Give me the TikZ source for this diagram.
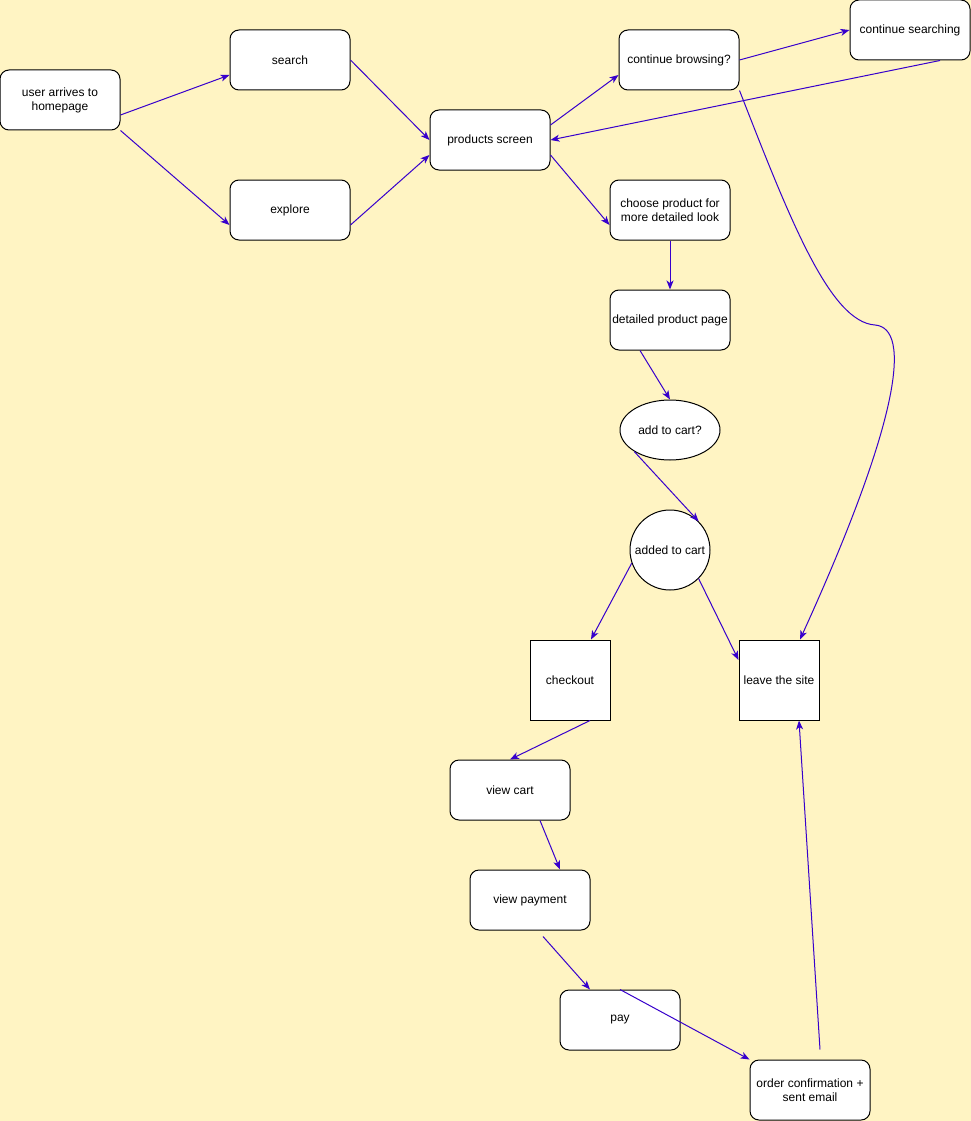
\documentclass[tikz,border=0pt]{standalone}
\usepackage{fontspec}
\setmainfont{Liberation Sans}
\usetikzlibrary{arrows.meta,calc,shapes.geometric}
\definecolor{bgcol}{HTML}{FFF4C3}
\definecolor{conncol}{HTML}{3700CC}
\begin{document}
\begin{tikzpicture}[x=1pt,y=-1pt,
  every node/.style={font=\fontsize{12}{14}\selectfont,text=black,align=center,inner sep=0pt},
  rbox/.style={draw=black,fill=white,line width=1pt,rounded corners=9pt,rectangle,minimum width=120pt,minimum height=60pt},
  sbox/.style={draw=black,fill=white,line width=1pt,rectangle,minimum width=80pt,minimum height=80pt},
  ebox/.style={draw=black,fill=white,line width=1pt,ellipse,minimum width=100pt,minimum height=60pt},
  cbox/.style={draw=black,fill=white,line width=1pt,circle,minimum size=80pt},
  conn/.style={draw=conncol,line width=1pt,-{Stealth[length=9pt,width=7pt,inset=2.5pt]}}]
\useasboundingbox (0,0) rectangle (971,1121);
\fill[bgcol] (0,0) rectangle (971,1121);

\node[rbox] (user) at (60,100) {user arrives to\\homepage};
\node[rbox] (search) at (290,60) {search};
\node[rbox] (explore) at (290,210) {explore};
\node[rbox] (products) at (490,140) {products screen};
\node[rbox] (browse) at (679,60) {continue browsing?};
\node[rbox] (searching) at (910,30) {continue searching};
\node[rbox] (choose) at (670,210) {choose product for\\more detailed look};
\node[rbox] (detailed) at (670,320) {detailed product page};
\node[ebox] (addq) at (670,430) {add to cart?};
\node[cbox] (added) at (670,550) {added to cart};
\node[sbox] (checkout) at (570,680) {checkout};
\node[sbox] (leave) at (779,680) {leave the site};
\node[rbox] (viewcart) at (510,790) {view cart};
\node[rbox] (viewpay) at (530,900) {view payment};
\node[rbox] (pay) at (620,1020) {pay};
\node[rbox] (order) at (810,1090) {order confirmation +\\sent email};

\draw[conn] ($(user.east)+(0,15)$) -- ($(search.west)+(0,15)$);
\draw[conn] (user.south east) -- ($(explore.west)+(0,15)$);
\draw[conn] (search.east) -- (products.west);
\draw[conn] ($(explore.east)+(0,15)$) -- ($(products.west)+(0,15)$);
\draw[conn] ($(products.east)+(0,-15)$) -- ($(browse.west)+(0,15)$);
\draw[conn] (browse.east) -- (searching.west);
\draw[conn] ($(searching.south)+(30,0)$) -- (products.east);
\draw[conn] ($(products.east)+(0,15)$) -- ($(choose.west)+(0,15)$);
\draw[conn] (choose.south) -- (detailed.north);
\draw[conn] ($(detailed.south)+(-30,0)$) -- (addq.north);
\draw[conn] (addq.south west) -- (added.north east);
\draw[conn] (added.199) -- ($(checkout.north)+(21,0)$);
\draw[conn] (added.south east) -- ($(leave.west)+(0,-20)$);
\draw[conn] (browse.south east) .. controls (790,220) and (830,322) .. (875,325)
  .. controls (912,328) and (900,420) .. ($(leave.north)+(21,0)$);
\draw[conn] ($(checkout.south)+(20,0)$) -- (viewcart.north);
\draw[conn] ($(viewcart.south)+(30,0)$) -- ($(viewpay.north)+(30,0)$);
\draw[conn] ($(viewpay.south)+(13,6)$) -- ($(pay.north)+(-30,0)$);
\draw[conn] (pay.north) -- (order.north west);
\draw[conn] ($(order.north)+(10,-10)$) -- ($(leave.south)+(20,0)$);
\end{tikzpicture}
\end{document}
